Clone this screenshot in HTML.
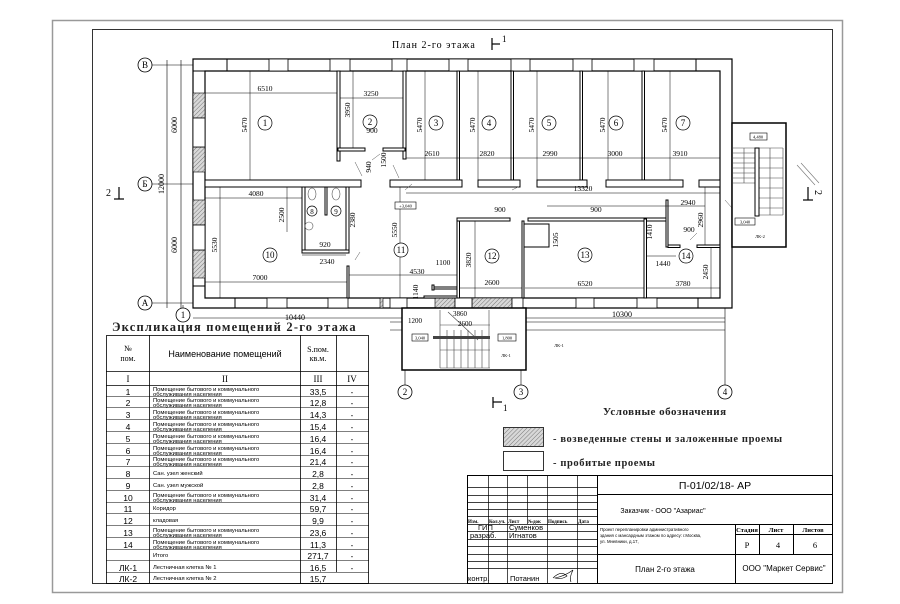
<!DOCTYPE html>
<html><head><meta charset="utf-8"><style>
html,body{margin:0;padding:0;background:#fff;}
svg{display:block;}
.s{font-family:"Liberation Serif","DejaVu Serif",serif;}
.a{font-family:"Liberation Sans","DejaVu Sans",sans-serif;}
</style></head><body>
<svg width="900" height="604" viewBox="0 0 900 604" xmlns="http://www.w3.org/2000/svg">
<defs>
<pattern id="h" width="3" height="3" patternUnits="userSpaceOnUse" patternTransform="rotate(45)">
<rect width="3" height="3" fill="#d8d8d8"/><line x1="0" y1="0" x2="0" y2="3" stroke="#777" stroke-width="1"/></pattern>
</defs>
<rect x="0" y="0" width="900" height="604" fill="#fff"/>
<rect x="52.5" y="20.5" width="790" height="572" fill="none" stroke="#999" stroke-width="1.5"/>
<rect x="92.5" y="29.5" width="740" height="554" fill="none" stroke="#333" stroke-width="1"/>

<text x="392" y="48" class="s" font-size="10" letter-spacing="1">План 2-го этажа</text>
<g stroke="#000" stroke-width="1.2"><line x1="492" y1="38" x2="492" y2="50"/><line x1="492" y1="44" x2="500" y2="44"/></g>
<text x="502" y="42" class="s" font-size="9">1</text>

<g stroke="#000" stroke-width="0.8" fill="#fff">
<circle cx="145" cy="65" r="7"/><circle cx="145" cy="184" r="7"/><circle cx="145" cy="303" r="7"/>
<circle cx="183" cy="315" r="7"/><circle cx="405" cy="392" r="7"/><circle cx="521" cy="392" r="7"/><circle cx="725" cy="392" r="7"/>
</g>
<g class="s" font-size="9" text-anchor="middle">
<text x="145" y="68">В</text><text x="145" y="187">Б</text><text x="145" y="306">А</text>
<text x="183" y="318">1</text><text x="405" y="395">2</text><text x="521" y="395">3</text><text x="725" y="395">4</text>
</g>
<g stroke="#000" stroke-width="0.6">
<line x1="152" y1="65" x2="193" y2="65"/><line x1="152" y1="184" x2="193" y2="184"/><line x1="152" y1="303" x2="193" y2="303"/>
<line x1="167" y1="60" x2="167" y2="308"/><line x1="181" y1="60" x2="181" y2="308"/>
<line x1="183" y1="305" x2="183" y2="308"/>
<line x1="405" y1="370" x2="405" y2="385"/><line x1="521" y1="370" x2="521" y2="385"/><line x1="725" y1="300" x2="725" y2="385"/>
<line x1="193" y1="318" x2="725" y2="318"/><line x1="390" y1="322" x2="725" y2="322"/><line x1="390" y1="330" x2="725" y2="330"/>
<line x1="193" y1="184" x2="732" y2="184" stroke-width="0.5"/>
</g>
<g class="s" font-size="8" text-anchor="middle">
<text transform="translate(177,125) rotate(-90)">6000</text>
<text transform="translate(177,245) rotate(-90)">6000</text>
<text transform="translate(164,184) rotate(-90)">12000</text>
<text x="295" y="320">10440</text><text x="622" y="317">10300</text>
</g>
<g stroke="#000" stroke-width="1.2"><line x1="119" y1="187" x2="119" y2="199"/><line x1="114" y1="199" x2="124" y2="199"/>
<line x1="808" y1="187" x2="808" y2="200"/><line x1="803" y1="200" x2="813" y2="200"/></g>
<text x="106" y="196" class="s" font-size="10">2</text>
<text transform="translate(815,190) rotate(90)" class="s" font-size="10">2</text>
<g stroke="#777" stroke-width="0.6"><line x1="797" y1="165" x2="815" y2="185"/><line x1="801" y1="163" x2="819" y2="183"/></g>

<g fill="#fff" stroke="#000" stroke-width="1.2">
<path d="M193 59 H732 V308 H193 Z"/>
<path d="M205 71 H720 V298 H205 Z"/>
</g>
<g fill="url(#h)" stroke="#000" stroke-width="0.6">
<rect x="193" y="93" width="12" height="25"/><rect x="193" y="147" width="12" height="25"/>
<rect x="193" y="200" width="12" height="25"/><rect x="193" y="250" width="12" height="28"/>
<rect x="215" y="180" width="17" height="7"/>
<rect x="435" y="298" width="20" height="10"/><rect x="472" y="298" width="40" height="10"/>
<rect x="380" y="298" width="3" height="10"/>
</g>
<g fill="#fff" stroke="#000" stroke-width="0.8">
<rect x="193" y="118" width="12" height="29"/><rect x="193" y="225" width="12" height="25"/>
<rect x="269" y="59" width="19" height="12"/><rect x="330" y="59" width="20" height="12"/><rect x="392" y="59" width="15" height="12"/>
<rect x="449" y="59" width="19" height="12"/><rect x="511" y="59" width="19" height="12"/><rect x="573" y="59" width="19" height="12"/>
<rect x="634" y="59" width="20" height="12"/>
<rect x="267" y="298" width="20" height="10"/><rect x="328" y="298" width="20" height="10"/><rect x="390" y="298" width="17" height="10"/>
<rect x="455" y="298" width="17" height="10"/><rect x="512" y="298" width="11" height="10"/><rect x="576" y="298" width="18" height="10"/><rect x="637" y="298" width="20" height="10"/>
</g>
<g stroke="#000" stroke-width="1" fill="none">
<line x1="193" y1="71" x2="227" y2="71"/><line x1="227" y1="59" x2="227" y2="71"/>
<line x1="696" y1="59" x2="696" y2="71"/><line x1="698" y1="298" x2="698" y2="308"/>
<line x1="205" y1="286" x2="193" y2="286"/><line x1="205" y1="286" x2="205" y2="298"/><line x1="205" y1="298" x2="235" y2="298"/><line x1="235" y1="298" x2="235" y2="308"/>
</g>
<g fill="#fff" stroke="#000" stroke-width="1">
<rect x="337" y="71" width="3" height="90"/><rect x="403" y="71" width="3" height="88"/>
<rect x="457" y="71" width="2.5" height="109"/><rect x="511" y="71" width="2.5" height="109"/>
<rect x="580" y="71" width="2.5" height="109"/><rect x="642" y="71" width="2.5" height="109"/>
<rect x="205" y="180" width="156" height="7"/><rect x="390" y="180" width="72" height="7"/>
<rect x="478" y="180" width="42" height="7"/><rect x="537" y="180" width="50" height="7"/>
<rect x="606" y="180" width="77" height="7"/><rect x="699" y="180" width="21" height="7"/>
<rect x="338" y="148" width="27" height="3"/><rect x="383" y="148" width="22" height="3"/>
<rect x="457" y="219" width="2.5" height="79"/><rect x="457" y="218" width="53" height="3"/>
<rect x="528" y="218" width="140" height="3"/><rect x="522" y="221" width="2" height="77"/>
<rect x="644" y="219" width="2.5" height="79"/><rect x="666" y="200" width="2" height="47"/>
<rect x="668" y="245" width="12" height="2.5"/><rect x="697" y="245" width="23" height="2.5"/>
<rect x="524" y="224" width="25" height="23" fill="none"/>
<rect x="302" y="187" width="3" height="65"/><rect x="346" y="187" width="3" height="64"/>
<rect x="325" y="187" width="2" height="28"/><rect x="302" y="250" width="47" height="3"/>
<rect x="347" y="266" width="2" height="32"/>
<rect x="424" y="296" width="33" height="2"/><rect x="432" y="287" width="25" height="2"/><rect x="432" y="285" width="2" height="5"/>
</g>
<g stroke="#555" stroke-width="0.5">
<line x1="372" y1="160" x2="380" y2="154"/><line x1="393" y1="165" x2="399" y2="178"/><line x1="355" y1="260" x2="360" y2="252"/>
<line x1="355" y1="162" x2="362" y2="176"/><line x1="405" y1="190" x2="412" y2="184"/><line x1="512" y1="190" x2="520" y2="186"/>
<line x1="690" y1="240" x2="697" y2="233"/><line x1="725" y1="200" x2="732" y2="208"/>
</g>
<g fill="none" stroke="#555" stroke-width="0.6">
<ellipse cx="312" cy="194" rx="4" ry="6"/><ellipse cx="336" cy="194" rx="4" ry="6"/>
<circle cx="309" cy="226" r="4"/>
</g>
<rect x="732" y="123" width="54" height="124" fill="#fff" stroke="#000" stroke-width="1.5"/>
<g stroke="#444" stroke-width="0.6">
<line x1="732" y1="148" x2="757" y2="148"/><line x1="732" y1="153" x2="757" y2="153"/><line x1="732" y1="158" x2="757" y2="158"/><line x1="732" y1="163" x2="757" y2="163"/><line x1="732" y1="168" x2="757" y2="168"/><line x1="732" y1="173" x2="757" y2="173"/><line x1="732" y1="178" x2="757" y2="178"/><line x1="732" y1="183" x2="757" y2="183"/>
<line x1="757" y1="148" x2="783" y2="148"/><line x1="757" y1="158" x2="783" y2="158"/><line x1="757" y1="168" x2="783" y2="168"/><line x1="757" y1="178" x2="783" y2="178"/><line x1="757" y1="188" x2="783" y2="188"/><line x1="757" y1="198" x2="783" y2="198"/><line x1="757" y1="208" x2="783" y2="208"/><line x1="757" y1="215" x2="783" y2="215"/>
<line x1="744" y1="148" x2="744" y2="183"/><line x1="770" y1="148" x2="770" y2="215"/><line x1="783" y1="148" x2="783" y2="215"/>
</g>
<rect x="755" y="148" width="4" height="68" fill="#fff" stroke="#000" stroke-width="1"/>
<rect x="750" y="133" width="17" height="7" fill="#fff" stroke="#000" stroke-width="0.6"/>
<rect x="735" y="218" width="20" height="7" fill="#fff" stroke="#000" stroke-width="0.6"/>
<g class="s" font-size="4.5" text-anchor="middle"><text x="758" y="138.5">4,480</text><text x="745" y="223.5">3,040</text><text x="760" y="238">ЛК-2</text></g>
<rect x="402" y="308" width="124" height="62" fill="#fff" stroke="#000" stroke-width="1.5"/>
<g stroke="#444" stroke-width="0.6">
<line x1="440" y1="325" x2="490" y2="325"/><line x1="440" y1="350" x2="490" y2="350"/><line x1="440" y1="368" x2="490" y2="368"/>
<line x1="440" y1="310" x2="440" y2="368"/><line x1="447" y1="330" x2="447" y2="368"/><line x1="454" y1="330" x2="454" y2="368"/><line x1="461" y1="330" x2="461" y2="368"/><line x1="468" y1="330" x2="468" y2="368"/><line x1="475" y1="330" x2="475" y2="368"/><line x1="482" y1="330" x2="482" y2="368"/><line x1="489" y1="310" x2="489" y2="368"/>
<line x1="448" y1="312" x2="478" y2="340"/>
</g>
<rect x="433" y="336" width="57" height="3" fill="#444"/>
<rect x="412" y="334" width="16" height="7" fill="#fff" stroke="#000" stroke-width="0.6"/>
<rect x="498" y="334" width="18" height="7" fill="#fff" stroke="#000" stroke-width="0.6"/>
<g class="s" font-size="4.5" text-anchor="middle"><text x="420" y="339.5">3,040</text><text x="507" y="339.5">1,800</text>
<text x="506" y="357">ЛК-1</text><text x="559" y="347">ЛК-1</text></g>
<g class="s" font-size="7" text-anchor="middle"><text x="415" y="323">1200</text><text x="460" y="316">3860</text><text x="465" y="326">2600</text></g>

<g stroke="#000" stroke-width="0.5">
<line x1="205" y1="93" x2="337" y2="93"/><line x1="340" y1="98" x2="403" y2="98"/>
<line x1="250" y1="71" x2="250" y2="180"/><line x1="353" y1="71" x2="353" y2="148"/>
<line x1="425" y1="71" x2="425" y2="180"/><line x1="478" y1="71" x2="478" y2="180"/><line x1="537" y1="71" x2="537" y2="180"/><line x1="608" y1="71" x2="608" y2="180"/><line x1="670" y1="71" x2="670" y2="180"/>
<line x1="406" y1="158" x2="720" y2="158"/>
<line x1="205" y1="198" x2="302" y2="198"/><line x1="220" y1="187" x2="220" y2="298"/>
<line x1="205" y1="282" x2="347" y2="282"/><line x1="349" y1="275" x2="457" y2="275"/>
<line x1="400" y1="187" x2="400" y2="298"/>
<line x1="287" y1="187" x2="287" y2="232"/><line x1="302" y1="255" x2="346" y2="255"/>
<line x1="406" y1="193" x2="720" y2="193"/><line x1="460" y1="288" x2="522" y2="288"/><line x1="525" y1="288" x2="644" y2="288"/><line x1="647" y1="288" x2="720" y2="288"/>
<line x1="547" y1="206" x2="705" y2="206"/><line x1="705" y1="187" x2="705" y2="245"/><line x1="711" y1="247" x2="711" y2="298"/>
<line x1="475" y1="221" x2="475" y2="298"/><line x1="646" y1="256" x2="676" y2="256"/>
</g>
<g class="s" font-size="7.5" text-anchor="middle">
<text x="265" y="91">6510</text><text x="371" y="96">3250</text><text x="372" y="133">900</text>
<text transform="translate(247,125) rotate(-90)">5470</text><text transform="translate(350,110) rotate(-90)">3950</text>
<text transform="translate(422,125) rotate(-90)">5470</text><text transform="translate(475,125) rotate(-90)">5470</text>
<text transform="translate(534,125) rotate(-90)">5470</text><text transform="translate(605,125) rotate(-90)">5470</text><text transform="translate(667,125) rotate(-90)">5470</text>
<text x="432" y="156">2610</text><text x="487" y="156">2820</text><text x="550" y="156">2990</text><text x="615" y="156">3000</text><text x="680" y="156">3910</text>
<text x="583" y="191">13320</text><text x="688" y="205">2940</text>
<text x="256" y="196">4080</text><text x="325" y="247">920</text><text x="327" y="264">2340</text>
<text transform="translate(284,215) rotate(-90)">2500</text><text transform="translate(355,220) rotate(-90)">2380</text>
<text transform="translate(217,245) rotate(-90)">5530</text><text transform="translate(397,230) rotate(-90)">5550</text>
<text x="260" y="280">7000</text><text x="417" y="274">4530</text><text x="443" y="265">1100</text>
<text transform="translate(418,292) rotate(-90)">1140</text>
<text transform="translate(371,167) rotate(-90)">940</text><text transform="translate(386,160) rotate(-90)">1500</text>
<text x="500" y="212">900</text><text x="596" y="212">900</text><text x="689" y="232">900</text>
<text transform="translate(471,260) rotate(-90)">3820</text><text x="492" y="285">2600</text><text x="585" y="286">6520</text><text x="683" y="286">3780</text>
<text transform="translate(558,240) rotate(-90)">1505</text><text transform="translate(652,232) rotate(-90)">1410</text>
<text x="663" y="266">1440</text><text transform="translate(703,220) rotate(-90)">2960</text><text transform="translate(708,272) rotate(-90)">2450</text>
</g>
<rect x="395" y="202" width="21" height="7" fill="#fff" stroke="#000" stroke-width="0.6"/>
<text x="405.5" y="207.5" class="s" font-size="4.5" text-anchor="middle">+3,040</text>
<g fill="#fff" stroke="#000" stroke-width="0.7">
<circle cx="265" cy="123" r="7"/><circle cx="370" cy="122" r="7"/><circle cx="436" cy="123" r="7"/><circle cx="489" cy="123" r="7"/><circle cx="549" cy="123" r="7"/><circle cx="616" cy="123" r="7"/><circle cx="683" cy="123" r="7"/>
<circle cx="312" cy="211" r="5"/><circle cx="336" cy="211" r="5"/><circle cx="270" cy="255" r="7"/><circle cx="401" cy="250" r="7"/><circle cx="492" cy="256" r="7"/><circle cx="585" cy="255" r="7"/><circle cx="686" cy="256" r="7"/>
</g>
<g class="s" font-size="9" text-anchor="middle">
<text x="265" y="126">1</text><text x="370" y="125">2</text><text x="436" y="126">3</text><text x="489" y="126">4</text><text x="549" y="126">5</text><text x="616" y="126">6</text><text x="683" y="126">7</text>
<text x="312" y="214" font-size="7">8</text><text x="336" y="214" font-size="7">9</text><text x="270" y="258">10</text><text x="401" y="253">11</text><text x="492" y="259">12</text><text x="585" y="258">13</text><text x="686" y="259">14</text>
</g>
<g stroke="#000" stroke-width="1.2"><line x1="493" y1="397" x2="493" y2="408"/><line x1="493" y1="402" x2="502" y2="402"/></g>
<text x="503" y="411" class="s" font-size="9">1</text>

<text x="603" y="415" class="s" font-size="11" letter-spacing="0.5" font-weight="bold" fill="#222">Условные обозначения</text>
<rect x="503.5" y="427.5" width="40" height="19" fill="url(#h)" stroke="#333"/>
<rect x="503.5" y="451.5" width="40" height="19" fill="#fff" stroke="#333"/>
<text x="553" y="442" class="s" font-size="10.5" letter-spacing="0.6" font-weight="bold" fill="#222">- возведенные стены и заложенные проемы</text>
<text x="553" y="466" class="s" font-size="10.5" letter-spacing="0.6" font-weight="bold" fill="#222">- пробитые проемы</text>

<text x="112" y="331" class="s" font-size="12.5" letter-spacing="1.2" font-weight="bold" fill="#222">Экспликация помещений 2-го этажа</text>
<g stroke="#000" stroke-width="0.8" fill="none">
<rect x="106.5" y="335.5" width="262" height="248"/>
<line x1="149.5" y1="335" x2="149.5" y2="583"/><line x1="300.5" y1="335" x2="300.5" y2="583"/><line x1="336.5" y1="335" x2="336.5" y2="572"/>
<line x1="106" y1="371.5" x2="369" y2="371.5"/><line x1="106" y1="385.5" x2="369" y2="385.5"/>
</g>
<g stroke="#000" stroke-width="0.6">
<line x1="106" y1="396.5" x2="369" y2="396.5"/><line x1="106" y1="407.5" x2="369" y2="407.5"/><line x1="106" y1="419.5" x2="369" y2="419.5"/><line x1="106" y1="431.5" x2="369" y2="431.5"/><line x1="106" y1="443.5" x2="369" y2="443.5"/><line x1="106" y1="455.5" x2="369" y2="455.5"/><line x1="106" y1="466.5" x2="369" y2="466.5"/><line x1="106" y1="478.5" x2="369" y2="478.5"/><line x1="106" y1="490.5" x2="369" y2="490.5"/><line x1="106" y1="502.5" x2="369" y2="502.5"/><line x1="106" y1="513.5" x2="369" y2="513.5"/><line x1="106" y1="525.5" x2="369" y2="525.5"/><line x1="106" y1="537.5" x2="369" y2="537.5"/><line x1="106" y1="549.5" x2="369" y2="549.5"/><line x1="106" y1="560.5" x2="369" y2="560.5"/><line x1="106" y1="572.5" x2="369" y2="572.5"/>
</g>
<g class="s" font-size="8" text-anchor="middle"><text x="128" y="351">№</text><text x="128" y="361">пом.</text>
<text x="318" y="352">S.пом.</text><text x="318" y="361">кв.м.</text>
<text x="128" y="382" font-size="9">I</text><text x="225" y="382" font-size="9">II</text><text x="318" y="382" font-size="9">III</text><text x="352" y="382" font-size="9">IV</text></g>
<text x="225" y="357" class="a" font-size="9" text-anchor="middle">Наименование помещений</text>
<g class="a" font-size="8.5" text-anchor="middle">
<text x="128" y="395">1</text><text x="128" y="406">2</text><text x="128" y="418">3</text><text x="128" y="430">4</text><text x="128" y="442">5</text><text x="128" y="454">6</text><text x="128" y="465">7</text><text x="128" y="477">8</text><text x="128" y="489">9</text><text x="128" y="501">10</text><text x="128" y="512">11</text><text x="128" y="524">12</text><text x="128" y="536">13</text><text x="128" y="548">14</text><text x="128" y="571">ЛК-1</text><text x="128" y="582">ЛК-2</text>
<text x="318" y="395">33,5</text><text x="318" y="406">12,8</text><text x="318" y="418">14,3</text><text x="318" y="430">15,4</text><text x="318" y="442">16,4</text><text x="318" y="454">16,4</text><text x="318" y="465">21,4</text><text x="318" y="477">2,8</text><text x="318" y="489">2,8</text><text x="318" y="501">31,4</text><text x="318" y="512">59,7</text><text x="318" y="524">9,9</text><text x="318" y="536">23,6</text><text x="318" y="548">11,3</text><text x="318" y="559">271,7</text><text x="318" y="571">16,5</text><text x="318" y="582">15,7</text>
</g>
<g class="a" font-size="8" text-anchor="middle"><text x="352" y="395">-</text><text x="352" y="406">-</text><text x="352" y="418">-</text><text x="352" y="430">-</text><text x="352" y="442">-</text><text x="352" y="454">-</text><text x="352" y="465">-</text><text x="352" y="477">-</text><text x="352" y="489">-</text><text x="352" y="501">-</text><text x="352" y="512">-</text><text x="352" y="524">-</text><text x="352" y="536">-</text><text x="352" y="548">-</text><text x="352" y="559">-</text><text x="352" y="571">-</text></g>
<g class="a" font-size="5.8">
<text x="153" y="391">Помещение бытового и коммунального</text><text x="153" y="396">обслуживания населения</text>
<text x="153" y="402">Помещение бытового и коммунального</text><text x="153" y="407">обслуживания населения</text>
<text x="153" y="414">Помещение бытового и коммунального</text><text x="153" y="419">обслуживания населения</text>
<text x="153" y="426">Помещение бытового и коммунального</text><text x="153" y="431">обслуживания населения</text>
<text x="153" y="438">Помещение бытового и коммунального</text><text x="153" y="443">обслуживания населения</text>
<text x="153" y="450">Помещение бытового и коммунального</text><text x="153" y="455">обслуживания населения</text>
<text x="153" y="461">Помещение бытового и коммунального</text><text x="153" y="466">обслуживания населения</text>
<text x="153" y="475">Сан. узел женский</text><text x="153" y="487">Сан. узел мужской</text>
<text x="153" y="497">Помещение бытового и коммунального</text><text x="153" y="502">обслуживания населения</text>
<text x="153" y="510">Коридор</text><text x="153" y="522">кладовая</text>
<text x="153" y="532">Помещение бытового и коммунального</text><text x="153" y="537">обслуживания населения</text>
<text x="153" y="544">Помещение бытового и коммунального</text><text x="153" y="549">обслуживания населения</text>
<text x="153" y="557">Итого</text><text x="153" y="569">Лестничная клетка № 1</text><text x="153" y="580">Лестничная клетка № 2</text>
</g>

<g stroke="#000" stroke-width="1" fill="none">
<rect x="467.5" y="475.5" width="365" height="108"/>
<line x1="597.5" y1="475" x2="597.5" y2="583"/>
<line x1="597" y1="494.5" x2="833" y2="494.5"/><line x1="597" y1="524.5" x2="833" y2="524.5"/><line x1="597" y1="554.5" x2="833" y2="554.5"/>
<line x1="735.5" y1="524" x2="735.5" y2="583"/><line x1="759.5" y1="524" x2="759.5" y2="554"/><line x1="793.5" y1="524" x2="793.5" y2="554"/>
<line x1="735" y1="534.5" x2="833" y2="534.5"/>
</g>
<g stroke="#000" stroke-width="0.7">
<line x1="488.5" y1="475" x2="488.5" y2="583"/><line x1="507.5" y1="475" x2="507.5" y2="583"/><line x1="527.5" y1="475" x2="527.5" y2="524"/><line x1="547.5" y1="475" x2="547.5" y2="583"/><line x1="577.5" y1="475" x2="577.5" y2="583"/>
<line x1="467" y1="487.5" x2="597" y2="487.5"/><line x1="467" y1="495.5" x2="597" y2="495.5"/><line x1="467" y1="502.5" x2="597" y2="502.5"/><line x1="467" y1="509.5" x2="597" y2="509.5"/><line x1="467" y1="516.5" x2="597" y2="516.5"/><line x1="467" y1="524.5" x2="597" y2="524.5"/>
<line x1="467" y1="531.5" x2="597" y2="531.5"/><line x1="467" y1="539.5" x2="597" y2="539.5"/><line x1="467" y1="546.5" x2="597" y2="546.5"/><line x1="467" y1="554.5" x2="597" y2="554.5"/><line x1="467" y1="561.5" x2="597" y2="561.5"/><line x1="467" y1="568.5" x2="597" y2="568.5"/>
</g>
<g class="s" font-size="5" font-weight="bold"><text x="468" y="523">Изм.</text><text x="489" y="523">Кол.уч.</text><text x="508" y="523">Лист</text><text x="528" y="523">№док</text><text x="548" y="523">Подпись</text><text x="578" y="523">Дата</text></g>
<g class="a" font-size="7.5"><text x="478" y="530">ГИП</text><text x="509" y="530">Суменков</text><text x="470" y="538">разраб.</text><text x="509" y="538">Игнатов</text><text x="468" y="581">контр.</text><text x="510" y="581">Потанин</text></g>
<path d="M553 578 q8 -8 14 -2 q-6 4 -12 2 q10 -2 18 -8 q-4 8 -2 12" fill="none" stroke="#000" stroke-width="0.6"/>
<text x="715" y="489" class="a" font-size="10.5" text-anchor="middle">П-01/02/18- АР</text>
<text x="663" y="513" class="a" font-size="7" text-anchor="middle">Заказчик - ООО "Азариас"</text>
<g class="a" font-size="4.3"><text x="600" y="531">Проект перепланировки административного</text><text x="600" y="537">здания с мансардным этажом по адресу: г.Москва,</text><text x="600" y="543">ул. Мневники, д.17,</text></g>
<g class="s" font-size="6.5" font-weight="bold" text-anchor="middle"><text x="747" y="532">Стадия</text><text x="776" y="532">Лист</text><text x="813" y="532">Листов</text></g>
<g class="s" font-size="8.5" text-anchor="middle"><text x="747" y="548">Р</text><text x="778" y="548">4</text><text x="815" y="548">6</text></g>
<text x="665" y="572" class="a" font-size="8" text-anchor="middle">План 2-го этажа</text>
<text x="784" y="571" class="a" font-size="8" text-anchor="middle">ООО "Маркет Сервис"</text>
</svg>
</body></html>
